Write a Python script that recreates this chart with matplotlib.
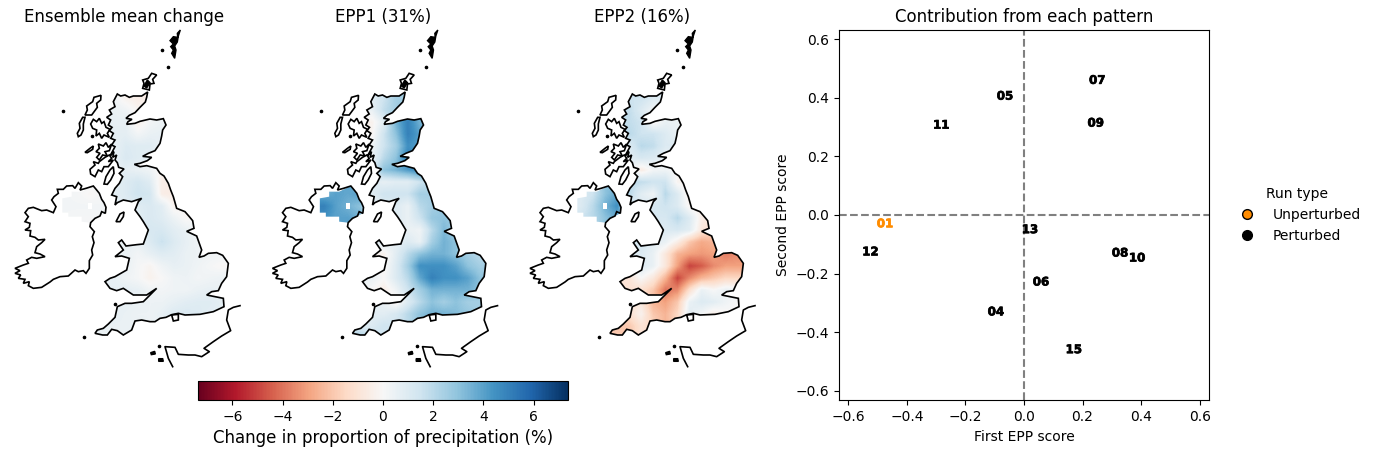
import numpy as np
import matplotlib
matplotlib.use("Agg")
import matplotlib.pyplot as plt
import matplotlib.patheffects as pe
from matplotlib.lines import Line2D
from matplotlib.patches import Polygon, PathPatch
from matplotlib.path import Path

n = np.nan

# ---- scatter data ----
run_ids = ["01", "04", "05", "06", "07", "08", "09", "10", "11", "12", "13", "15"]
epp1_score = [-0.475, -0.096, -0.065, 0.058, 0.25, 0.328, 0.245, 0.386, -0.283, -0.525, 0.02, 0.17]
epp2_score = [-0.03, -0.331, 0.406, -0.229, 0.46, -0.13, 0.314, -0.147, 0.307, -0.126, -0.05, -0.46]
unperturbed_id = "01"
panel_titles = ["Ensemble mean change", "EPP1 (31%)", "EPP2 (16%)"]

# ---- gridded change (%), rows north to south, columns west to east ----
grid_x = [198, 234, 270, 306, 342, 378, 414, 450, 486, 522, 558, 594, 630, 666, 702]
grid_y = [234, 270, 306, 342, 378, 414, 450, 486, 522, 558, 594, 630, 666, 702, 738, 774, 810, 846, 882, 918, 954]

mean_change = [
    [n, n, n, n, .3, -.3, -.5, n, n, n, n, n, n, n, n],
    [n, n, n, n, .5, .3, -.2, n, n, n, n, n, n, n, n],
    [n, n, n, n, .6, .6, -.4, .2, .4, n, n, n, n, n, n],
    [n, n, n, n, .7, .7, .2, .5, .6, n, n, n, n, n, n],
    [n, n, n, n, .5, 1.0, .9, .9, .5, n, n, n, n, n, n],
    [n, n, n, n, .6, 1.1, .9, .7, n, n, n, n, n, n, n],
    [n, n, n, n, .5, .7, .5, .3, -.2, n, n, n, n, n, n],
    [n, .2, .1, n, .7, 1.0, 1.3, .9, -.5, n, n, n, n, n, n],
    [.2, .1, -.1, .1, .7, 1.0, 1.5, 1.3, -.5, -.6, n, n, n, n, n],
    [.2, .2, .2, .2, .6, n, .9, 1.1, .8, -.3, n, n, n, n, n],
    [n, .1, .1, n, n, n, .8, 1.1, .9, .4, -.1, n, n, n, n],
    [n, n, n, n, n, n, n, 1.2, 1.2, .8, .5, .2, n, n, n],
    [n, n, n, n, n, .5, .5, 1.0, 1.6, 1.0, .6, .3, n, n, n],
    [n, n, n, n, n, .5, .2, .6, .9, .8, .5, .4, .3, .3, n],
    [n, n, n, n, n, .5, .1, -.2, .3, .6, .5, .3, .1, -.1, n],
    [n, n, n, n, .6, .3, .1, -.3, 0, .3, .4, .2, .3, .4, n],
    [n, n, n, n, n, .7, .6, .3, .2, .3, .3, .5, .6, .5, n],
    [n, n, n, n, n, .6, .5, .4, .4, .6, .8, .9, .9, .7, n],
    [n, n, n, n, .6, .5, .4, .4, .6, 1.0, 1.1, 1.0, .8, n, n],
    [n, n, n, .5, .5, .5, n, n, n, n, n, n, n, n, n],
    [n, n, n, .5, n, n, n, n, n, n, n, n, n, n, n],
]

epp1_pattern = [
    [n, n, n, n, .8, 1.5, 2.5, n, n, n, n, n, n, n, n],
    [n, n, n, n, .5, 1.8, 2.5, n, n, n, n, n, n, n, n],
    [n, n, n, n, -.3, .8, 3.5, 5.0, 3.5, n, n, n, n, n, n],
    [n, n, n, n, -.2, 1.5, 3.0, 5.0, 4.0, n, n, n, n, n, n],
    [n, n, n, n, .3, 1.5, 2.5, 4.5, 4.0, n, n, n, n, n, n],
    [n, n, n, n, .5, 2.0, 3.0, 5.0, n, n, n, n, n, n, n],
    [n, n, n, n, 1.0, 3.0, 3.5, 4.2, 4.8, n, n, n, n, n, n],
    [n, 3.5, 4.0, n, 1.0, .6, .8, .8, 1.5, n, n, n, n, n, n],
    [3.5, 4.0, 3.8, 4.0, .8, 1.5, 1.5, 1.5, 2.5, 2.5, n, n, n, n, n],
    [5.0, 4.0, 3.5, 3.0, .5, n, 1.0, .5, 2.0, 2.5, n, n, n, n, n],
    [n, 4.0, 4.0, n, n, n, 1.0, .5, 1.5, 2.8, 3.0, n, n, n, n],
    [n, n, n, n, n, n, n, .5, .3, 2.0, 3.3, 2.5, n, n, n],
    [n, n, n, n, n, .8, .6, 1.0, .5, 2.5, 3.5, 3.0, n, n, n],
    [n, n, n, n, n, -.3, .8, 2.0, 3.0, 3.5, 3.5, 3.0, 2.5, 2.0, n],
    [n, n, n, n, n, -.2, 1.0, 2.5, 4.5, 4.5, 4.5, 4.0, 3.0, 2.5, n],
    [n, n, n, n, .5, 0, 1.0, 2.0, 3.8, 5.0, 4.5, 4.5, 4.0, 3.0, n],
    [n, n, n, n, n, -.5, .3, 1.5, 2.5, 3.5, 3.5, 3.5, 3.5, 3.0, n],
    [n, n, n, n, n, .5, -.3, 1.0, 2.0, 3.0, 2.5, 3.0, 2.5, 2.5, n],
    [n, n, n, n, .8, .8, 1.2, 2.0, 3.0, 3.5, 3.5, 3.2, n, n, n],
    [n, n, n, 1.0, 1.0, 1.5, n, n, n, n, n, n, n, n, n],
    [n, n, n, 2.5, n, n, n, n, n, n, n, n, n, n, n],
]

epp2_pattern = [
    [n, n, n, n, 1.5, 1.5, 1.0, n, n, n, n, n, n, n, n],
    [n, n, n, n, 1.8, 1.0, .3, n, n, n, n, n, n, n, n],
    [n, n, n, n, 1.8, 1.5, -.2, .5, .5, n, n, n, n, n, n],
    [n, n, n, n, 2.0, 1.5, 1.5, 1.0, .5, n, n, n, n, n, n],
    [n, n, n, n, 1.0, 2.0, 1.8, 1.0, 1.0, n, n, n, n, n, n],
    [n, n, n, n, .8, 1.2, 1.0, .5, n, n, n, n, n, n, n],
    [n, n, n, n, .5, -.6, .2, .3, .1, n, n, n, n, n, n],
    [n, 1.5, 3.0, n, 2.0, 1.8, 1.5, 1.5, -.2, n, n, n, n, n, n],
    [1.0, 1.5, 3.0, 3.8, 2.0, .8, .3, 2.0, 1.0, -.5, n, n, n, n, n],
    [1.0, 2.0, 3.5, 4.5, 1.0, n, 1.2, 1.5, 1.0, -.2, -.5, n, n, n, n],
    [n, 2.0, 3.0, n, n, n, 1.2, 1.2, 2.0, 1.0, -.5, n, n, n, n],
    [n, n, n, n, n, n, n, 1.0, 1.2, .8, -.8, -1.5, n, n, n],
    [n, n, n, n, n, 1.3, .8, .5, -.5, -2.0, -2.8, -2.5, n, n, n],
    [n, n, n, n, n, 1.0, .5, -.8, -2.5, -3.0, -3.2, -3.0, -3.8, -3.5, n],
    [n, n, n, n, n, 1.0, .5, -.8, -3.0, -5.0, -4.5, -3.5, -3.0, -3.0, n],
    [n, n, n, n, -1.0, 0, -.8, -2.5, -5.0, -3.5, -2.5, -2.0, -1.5, -1.5, n],
    [n, n, n, n, n, -1.2, -2.0, -4.0, -3.5, -1.2, .5, 0, .5, .3, n],
    [n, n, n, n, n, -.8, -2.5, -3.0, -2.0, .5, 1.0, .8, .3, 0, n],
    [n, n, n, n, -1.2, -.3, -2.0, -2.5, -1.5, .8, .2, -.5, n, n, n],
    [n, n, n, -2.0, -2.0, -1.0, n, n, n, n, n, n, n, n, n],
    [n, n, n, -2.0, n, n, n, n, n, n, n, n, n, n, n],
]

# ---- outlines (map units) ----
gb_coast = [
    (352, 222), (362, 228), (375, 225), (388, 232), (400, 228), (425, 228), (443, 216), (440, 232),
    (436, 246), (420, 262), (405, 278), (388, 286), (378, 295), (396, 298), (384, 305), (380, 313),
    (405, 310), (420, 304), (450, 297), (470, 300), (490, 296), (498, 315), (488, 330), (485, 348),
    (480, 370), (465, 392), (445, 400), (428, 409), (455, 412), (442, 422), (420, 430), (403, 433),
    (420, 440), (440, 437), (470, 445), (480, 460), (492, 468), (505, 490), (512, 510), (520, 530),
    (530, 565), (555, 575), (568, 590), (578, 602), (582, 625), (560, 634), (590, 648), (605, 690),
    (597, 712), (612, 708), (625, 700), (650, 698), (668, 706), (685, 730), (680, 770), (665, 790),
    (655, 812), (635, 815), (620, 825), (645, 830), (670, 835), (672, 860), (640, 875), (600, 883),
    (555, 885), (535, 880), (515, 884), (498, 892), (480, 895), (465, 905), (450, 905), (425, 900),
    (405, 903), (395, 930), (370, 945), (352, 932), (335, 928), (322, 945), (308, 945), (285, 940),
    (292, 930), (310, 925), (325, 912), (345, 892), (352, 860), (375, 850), (395, 850), (430, 845),
    (445, 830), (470, 805), (440, 825), (400, 825), (385, 815), (370, 805), (350, 812), (330, 805),
    (315, 785), (330, 775), (345, 770), (380, 750), (388, 715), (365, 708), (345, 710), (370, 690),
    (355, 668), (365, 660), (378, 678), (410, 674), (430, 672), (445, 630), (430, 605), (420, 590),
    (405, 570), (415, 545), (425, 535), (395, 545), (370, 540), (352, 548), (345, 555), (350, 530),
    (335, 525), (345, 505), (358, 490), (368, 470), (358, 460), (372, 447), (356, 442), (352, 428),
    (345, 420), (350, 405), (338, 412), (342, 395), (330, 408), (345, 380), (335, 375), (345, 360),
    (332, 355), (340, 340), (328, 332), (336, 322), (325, 315), (332, 300), (320, 292), (335, 282),
    (328, 270), (345, 260), (340, 245),
]
ireland_coast = [
    (155, 540), (162, 530), (175, 520), (172, 508), (190, 508), (200, 498), (218, 497), (225, 505),
    (235, 488), (245, 498), (240, 510), (258, 505), (280, 498), (290, 510), (298, 520), (305, 538),
    (312, 548), (318, 562), (316, 580), (305, 575), (300, 588), (285, 595), (272, 608), (270, 620),
    (283, 635), (277, 650), (282, 668), (275, 690), (278, 705), (268, 722), (268, 745), (258, 760),
    (250, 752), (235, 755), (225, 750), (205, 768), (180, 770), (160, 778), (150, 786), (125, 802),
    (100, 805), (85, 797), (88, 785), (70, 790), (75, 778), (55, 775), (62, 765), (45, 760),
    (60, 752), (45, 745), (70, 735), (85, 730), (80, 720), (95, 712), (110, 715), (135, 710),
    (120, 702), (105, 698), (110, 680), (125, 668), (135, 658), (115, 660), (105, 652), (90, 648),
    (92, 632), (75, 630), (88, 622), (90, 610), (75, 605), (85, 590), (75, 578), (85, 565),
    (100, 562), (125, 572), (140, 570), (160, 578), (168, 560),
]
ni_region = [
    (187, 535), (215, 530), (215, 515), (245, 515), (280, 498), (290, 510), (298, 520), (305, 538),
    (312, 548), (318, 562), (316, 580), (300, 588), (285, 595), (272, 608), (245, 605), (245, 590),
    (205, 590), (205, 578), (187, 578),
]
ni_gap = [(264, 548), (276, 548), (276, 568), (264, 568)]
islands = [
    [(255, 285), (262, 270), (260, 258), (278, 245), (282, 232), (303, 226), (302, 240), (290, 250), (292, 262), (275, 285)],
    [(235, 350), (232, 340), (240, 325), (238, 310), (248, 292), (255, 292), (250, 312), (250, 330), (243, 345)],
    [(272, 312), (280, 298), (290, 305), (298, 295), (305, 310), (312, 305), (318, 322), (330, 328), (322, 340), (328, 352), (312, 345), (305, 355), (298, 340), (288, 348), (290, 330), (278, 325)],
    [(255, 397), (270, 385), (280, 378), (278, 388), (262, 398)],
    [(288, 395), (298, 385), (295, 372), (310, 378), (318, 368), (325, 382), (335, 372), (328, 392), (315, 395), (322, 408), (308, 405), (298, 420), (290, 412), (300, 400)],
    [(298, 425), (315, 412), (328, 405), (335, 415), (325, 425), (340, 420), (325, 440), (312, 440), (305, 455), (295, 450), (285, 470), (272, 462), (270, 448), (285, 435), (280, 425), (295, 430)],
    [(312, 492), (318, 470), (330, 450), (340, 440), (342, 460), (332, 480), (322, 493)],
    [(348, 605), (360, 582), (372, 576), (370, 590), (360, 605)],
    [(515, 885), (535, 883), (535, 900), (520, 903)],
    [(428, 205), (432, 190), (428, 180), (445, 175), (455, 160), (470, 165), (458, 178), (462, 190), (450, 192), (448, 210)],
]
dark_islands = [
    [(541, 30), (532, 40), (533, 52), (520, 50), (510, 62), (520, 72), (512, 80), (520, 90), (515, 100), (524, 115), (528, 90), (524, 78), (532, 66), (535, 48)],
    [(476, 1016), (488, 1016), (490, 1024), (476, 1024)],
    [(452, 998), (464, 994), (466, 1002), (454, 1004)],
    [(432, 198), (442, 180), (450, 188), (440, 204)],
]
france_coast = [
    (720, 857), (700, 862), (685, 870), (680, 900), (692, 932), (665, 948), (640, 965), (612, 985),
    (628, 995), (605, 1010), (585, 1005), (565, 1005), (535, 1003), (525, 982), (495, 980), (505, 1015),
    (518, 1040),
]
small_isles = [(487, 90), (505, 141), (190, 273), (252, 952), (345, 852), (478, 978), (277, 348)]

PX_W, PX_H = 1376, 454
panel_shift_px = [0, 257.5, 515]


def rect(x0, y0, w, h):
    return [x0 / PX_W, 1 - (y0 + h) / PX_H, w / PX_W, h / PX_H]


def filled(values):
    a = np.array(values, dtype=float)
    while np.isnan(a).any():
        p = np.pad(a, 1, constant_values=np.nan)
        stack = np.stack([p[:-2, 1:-1], p[2:, 1:-1], p[1:-1, :-2], p[1:-1, 2:]])
        ok = ~np.isnan(stack)
        cnt = ok.sum(axis=0)
        s = np.where(ok, stack, 0).sum(axis=0)
        m = np.isnan(a) & (cnt > 0)
        a[m] = s[m] / cnt[m]
    return a


fig = plt.figure(figsize=(PX_W / 100, PX_H / 100), dpi=100)
vmax = 7.37
cmap = "RdBu"
dx = (grid_x[1] - grid_x[0]) / 2
extent = (grid_x[0] - dx, grid_x[-1] + dx, grid_y[-1] + dx, grid_y[0] - dx)

im = None
for title, field, shift in zip(panel_titles, [mean_change, epp1_pattern, epp2_pattern], panel_shift_px):
    ax = fig.add_axes(rect(shift, 20, 260, 350))
    ax.set_axis_off()
    im = ax.imshow(filled(field), extent=extent, cmap=cmap, vmin=-vmax, vmax=vmax,
                   interpolation="bilinear", aspect="auto", zorder=1)
    verts = gb_coast + gb_coast[:1] + ni_region + ni_region[:1]
    codes = ([Path.MOVETO] + [Path.LINETO] * (len(gb_coast) - 1) + [Path.CLOSEPOLY]
             + [Path.MOVETO] + [Path.LINETO] * (len(ni_region) - 1) + [Path.CLOSEPOLY])
    im.set_clip_path(PathPatch(Path(verts, codes), transform=ax.transData))
    ax.add_patch(Polygon(ni_gap, closed=True, fc="white", ec="none", zorder=2))
    for poly in [gb_coast, ireland_coast] + islands:
        ax.add_patch(Polygon(poly, closed=True, fc="none", ec="black", lw=1.2, zorder=3))
    for poly in dark_islands:
        ax.add_patch(Polygon(poly, closed=True, fc="black", ec="black", lw=1.0, zorder=3))
    ax.plot(*zip(*france_coast), color="black", lw=1.2, zorder=3)
    ax.plot(*zip(*small_isles), ls="none", marker="o", ms=1.6, color="black", zorder=3)
    ax.set_xlim(0, 780)
    ax.set_ylim(1050, 0)
    fig.text((124.5 + shift * 259 / 257.5) / PX_W, 1 - 17 / PX_H, title, fontsize=12,
             ha="center", va="center")

cax = fig.add_axes(rect(198, 381, 370, 19))
cb = fig.colorbar(im, cax=cax, orientation="horizontal")
cb.set_ticks([-6, -4, -2, 0, 2, 4, 6])
cb.set_label("Change in proportion of precipitation (%)", fontsize=12)

ax = fig.add_axes(rect(839, 30, 370, 370))
ax.axhline(0, color="gray", ls="--", lw=1.5, zorder=1)
ax.axvline(0, color="gray", ls="--", lw=1.5, zorder=1)
for rid, xv, yv in zip(run_ids, epp1_score, epp2_score):
    c = "darkorange" if rid == unperturbed_id else "black"
    ax.text(xv, yv, rid, fontsize=8.5, fontweight="bold", ha="center", va="center", color=c, zorder=3,
            path_effects=[pe.withStroke(linewidth=0.5, foreground=c)])
ax.set_xlim(-0.632, 0.632)
ax.set_ylim(-0.632, 0.632)
ax.set_xticks([-0.6, -0.4, -0.2, 0.0, 0.2, 0.4, 0.6])
ax.set_yticks([-0.6, -0.4, -0.2, 0.0, 0.2, 0.4, 0.6])
ax.set_xlabel("First EPP score", labelpad=4.7)
ax.set_ylabel("Second EPP score")
ax.set_title("Contribution from each pattern", fontsize=12, pad=6)

handles = [
    Line2D([], [], ls="none", marker="o", ms=7, mfc="darkorange", mec="black", label="Unperturbed"),
    Line2D([], [], ls="none", marker="o", ms=7, mfc="black", mec="black", label="Perturbed"),
]
fig.legend(handles=handles, title="Run type", frameon=False, loc="center left",
           bbox_to_anchor=(1228 / PX_W, 1 - 215 / PX_H), borderaxespad=0)

fig.savefig("out.png", dpi=100)
